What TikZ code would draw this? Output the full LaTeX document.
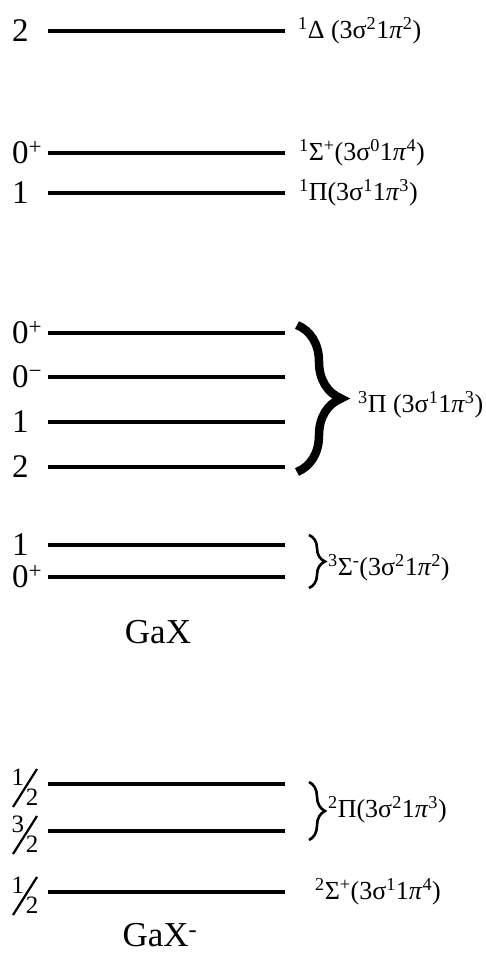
\documentclass[tikz,border=0pt]{standalone}
\usepackage{fontspec}
\setmainfont{Liberation Serif}
\usetikzlibrary{calc,decorations.pathreplacing}

\begin{document}
\begin{tikzpicture}[x=1pt,y=-1pt,
  level/.style={line width=3.3pt},
  jlabel/.style={anchor=west,inner sep=0pt,font=\fontsize{33}{33}\selectfont},
  fracnum/.style={inner sep=0pt,font=\fontsize{25}{25}\selectfont},
  fracslash/.style={line width=2.2pt},
  term/.style={anchor=west,inner sep=0pt,font=\fontsize{26}{26}\selectfont},
  molecule/.style={inner sep=0pt,font=\fontsize{35}{35}\selectfont},
  bigbrace/.style={decorate,decoration={brace,amplitude=44pt},line width=8.5pt},
  smallbrace/.style={decorate,decoration={brace,amplitude=16pt},line width=2.6pt}]

    \useasboundingbox (0,0) rectangle (485,953);

    % GaX levels: y / J
    \foreach \y/\j [count=\n] in {31/{2}, 153/{0\textsuperscript{+}}, 193/{1},
        333/{0\textsuperscript{+}}, 377/{0\textsuperscript{−}}, 422/{1}, 467/{2},
        545/{1}, 577/{0\textsuperscript{+}}} {
        \node[jlabel] (j\n) at (12,\y) {\j};
        \coordinate (s\n) at (48,\y);
        \coordinate (e\n) at (285,\y);
        \draw[level] (s\n) -- (e\n);
    }

    % GaX- levels, half-integer J
    \foreach \y/\a [count=\n] in {784/1, 831/3, 892/1} {
        \node[fracnum] (hn\n) at (18,\y-7) {\a};
        \node[fracnum] (hd\n) at (32,\y+13) {2};
        \coordinate (hs\n) at (13,\y+23);
        \coordinate (ht\n) at (37,\y-15);
        \draw[fracslash] (hs\n) -- (ht\n);
        \coordinate (hl\n) at (48,\y);
        \coordinate (h\n) at (285,\y);
        \draw[level] (hl\n) -- (h\n);
    }

    % term symbols
    \node[term] (delta) at ($(e1)+(13,0)$) {\textsuperscript{1}Δ (3σ\textsuperscript{2}1\textit{π}\textsuperscript{2})};
    \node[term] (sigma1) at ($(e2)+(14,0)$) {\textsuperscript{1}Σ\textsuperscript{+}(3σ\textsuperscript{0}1\textit{π}\textsuperscript{4})};
    \node[term] (pi1) at ($(e3)+(14,0)$) {\textsuperscript{1}Π(3σ\textsuperscript{1}1\textit{π}\textsuperscript{3})};

    \draw[bigbrace] ($(e4)+(12,-8)$) -- ($(e7)+(12,5)$);
    \node[term] (pi3) at (358,405) {\textsuperscript{3}Π (3σ\textsuperscript{1}1\textit{π}\textsuperscript{3})};

    \draw[smallbrace] ($(e8)+(24,-10)$) -- ($(e9)+(24,11)$);
    \node[term] (sigma3) at (328,568) {\textsuperscript{3}Σ\textsuperscript{-}(3σ\textsuperscript{2}1\textit{π}\textsuperscript{2})};

    \node[molecule] (gax) at (158,632) {GaX};

    \draw[smallbrace] ($(h1)+(24,-2)$) -- ($(h2)+(24,9)$);
    \node[term] (pi2) at (328,810) {\textsuperscript{2}Π(3σ\textsuperscript{2}1\textit{π}\textsuperscript{3})};
    \node[term] (sigma2) at ($(h3)+(30,0)$) {\textsuperscript{2}Σ\textsuperscript{+}(3σ\textsuperscript{1}1\textit{π}\textsuperscript{4})};

    \node[molecule] (gaxm) at (160,935) {GaX\textsuperscript{-}};
\end{tikzpicture}
\end{document}
